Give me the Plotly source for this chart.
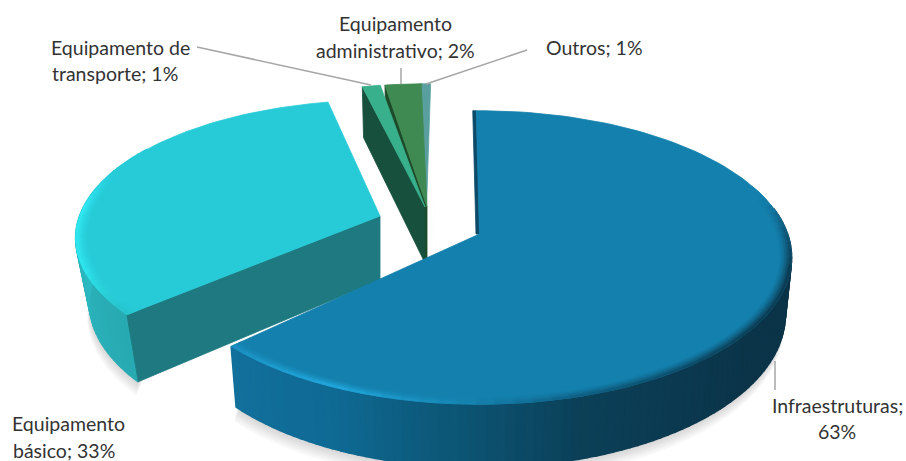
import math
import plotly.graph_objects as go

# ---- data -------------------------------------------------------------
categories = ["Infraestruturas", "Equipamento básico", "Equipamento de transporte",
              "Equipamento administrativo", "Outros"]
values = [62.9, 33.2, 1.1, 2.2, 0.6]
label_lines = [["Infraestruturas;", "{v}%"], ["Equipamento", "básico; {v}%"],
               ["Equipamento de", "transporte; {v}%"], ["Equipamento", "administrativo; {v}%"],
               ["Outros; {v}%"]]

# ---- view / style ------------------------------------------------------
W, H = 906, 461
R0, R2, K = 305.0, 143.0, 0.16
APEX = [(479.5, 234), (380, 216), (425, 207), (427, 207), (426.5, 207)]
ROT = [-0.7, 2.5, 0.3, 0.9, 0.9]
RS = [1.01, 0.985, 1.0, 1.0, 1.0]
YS = [1.0, 0.94, 1.0, 1.0, 1.0]
TH = [56.0, 64.0, 56.0, 56.0, 56.0]
SHRINK = [0.02, 0.045, 0.02, 0.02, 0.02]
TOP = ["#1480ad", "#27cbd8", "#38b08c", "#3f8a52", "#5a9fa0"]
WALL = [None, "#1e7a80", "#17503c", "#1d4a28", "#24505a"]
BLUE_SIDE = [(226, "#12709c"), (205, "#0f6a94"), (185, "#0c5676"), (165, "#0b4058"),
             (130, "#0b3449"), (80, "#0c3347")]
BLUE_EDGE = [(227, "#1a8fc0"), (205, "#22a8dd"), (185, "#1788b6"), (165, "#0f5f82"),
             (130, "#0c4058"), (105, "#0c3b52"), (90, "#0f5878"), (76, "#1480ad"), (0, "#1480ad")]
CYAN_SIDE = [(228, "#28aab2"), (250, "#2bb2ba"), (275, "#2ac0c8"), (300, "#27cbd8")]
CYAN_EDGE = [(229, "#28c4cc"), (245, "#2fe4ec"), (272, "#30e8f2"), (288, "#27cbd8"), (347, "#27cbd8")]


def hex2(c):
    return tuple(int(c[i:i + 2], 16) for i in (1, 3, 5))


def mix(a, b, t):
    ca, cb = hex2(a), hex2(b)
    return "#%02x%02x%02x" % tuple(round(x + (y - x) * t) for x, y in zip(ca, cb))


def ramp(stops, a):
    st = sorted(stops)
    if a <= st[0][0]:
        return st[0][1]
    for (a0, c0), (a1, c1) in zip(st, st[1:]):
        if a <= a1:
            return mix(c0, c1, (a - a0) / (a1 - a0))
    return st[-1][1]


def proj(i, th, r=1.0, d=0.0, ox=0.0, oy=0.0):
    ax, ay = APEX[i]
    t = math.radians(th + ROT[i])
    X, Y = r * math.sin(t), -r * math.cos(t)
    s = 1 / (1 - K * Y)
    f = 1 - SHRINK[i] * d
    return ax + R0 * RS[i] * X * s * f + ox, ay + R2 * YS[i] * Y * s * f + TH[i] * d * s + oy


fig = go.Figure()


def poly(pts, color, seam=0.8):
    xs = [p[0] for p in pts] + [pts[0][0]]
    ys = [p[1] for p in pts] + [pts[0][1]]
    fig.add_trace(go.Scatter(x=xs, y=ys, mode="lines", fill="toself", fillcolor=color,
                             line=dict(color=color if seam else "rgba(0,0,0,0)", width=seam),
                             hoverinfo="skip", showlegend=False))


def arange(a, b, n):
    return [a + (b - a) * j / n for j in range(n + 1)]


total = sum(values)
spans, c = [], 0.0
for v in values:
    spans.append((c, c + v / total * 360))
    c += v / total * 360

# soft shadows
for i, lo, hi in ((1, 200, 300), (0, 60, 232)):
    a0, a1 = max(spans[i][0], lo), min(spans[i][1], hi)
    for n in range(6):
        off = 2 + n * 2.4
        pts = [proj(i, a, 1.0, 1.0, -off * 0.15, off) for a in arange(a0, a1, 50)]
        pts += [proj(i, a, 0.8, 0.0) for a in arange(a1, a0, 20)]
        poly(pts, "rgba(60,60,60,0.035)", seam=0)

# thin slices (drawn back to front, right to left)
for i in (2, 3, 4):
    a0, a1 = spans[i]
    for n in range(4):
        off = 2 + n * 2.5
        pts = [proj(i, a1, 1, 0.2, off, off), proj(i, a1, 0.02, 1, off, 0), proj(i, a0, 0.02, 1, off, 0)]
        poly(pts, "rgba(60,60,60,0.02)", seam=0)
for i in (4, 3, 2):
    a0, a1 = spans[i]
    poly([proj(i, a0, 1, 0), proj(i, a0, 0, 0), proj(i, a0, 0, 1), proj(i, a0, 1, 1)], WALL[i])
    poly([proj(i, 0, 0, 0)] + [proj(i, a) for a in arange(a0, a1, 4)], TOP[i])


def side(i, stops, lo, hi, step=1.5):
    # painted so each strip overlaps its neighbour, which hides the seams
    g = arange(lo, hi, max(1, int((hi - lo) / step)))
    for p, q in zip(g, g[1:]):
        poly([proj(i, p, 1, 0), proj(i, q, 1, 0), proj(i, q, 1, 1), proj(i, p, 1, 1)],
             ramp(stops, (p + q) / 2), seam=1.6)


def bevel(i, stops, lo, hi, nseg, rings):
    weights = [(j + 1) / (len(rings) - 1) for j in range(len(rings) - 1)]
    g = arange(lo, hi, nseg)
    for r0, r1, w in zip(rings, rings[1:], weights):
        for p, q in zip(g, g[1:]):
            poly([proj(i, p, r0), proj(i, q, r0), proj(i, q, r1), proj(i, p, r1)],
                 mix(TOP[i], ramp(stops, (p + q) / 2), w ** 1.4))


RINGS = [0.965, 0.972, 0.979, 0.986, 0.993, 1.0]

# cyan slice
a0, a1 = spans[1]
side(1, CYAN_SIDE, a0, 300)
poly([proj(1, a0, 1, 0), proj(1, a0, 0, 0), proj(1, a0, 0, 1), proj(1, a0, 1, 1)], WALL[1])
poly([proj(1, 0, 0, 0)] + [proj(1, a) for a in arange(a0, a1, 60)], TOP[1])
bevel(1, CYAN_EDGE, a0, 292, 30, RINGS)

# blue slice
a0, a1 = spans[0]
side(0, BLUE_SIDE, 80, a1)
poly([proj(0, 0, 0, 0, -3.5, 0), proj(0, 0, 1, 0, -3.5, 0), proj(0, 0, 1, 0), proj(0, 0, 0, 0)], "#0c4a68")
poly([proj(0, 0, 0, 0)] + [proj(0, a) for a in arange(a0, a1, 120)], TOP[0])
bevel(0, BLUE_EDGE, 70, a1, 52, RINGS)

# leader lines
leaders = [((197, 47), (371, 85)), ((401, 68), (401, 84)), ((527, 50), (426, 84)), ((775, 361), (775, 390))]
for p, q in leaders:
    fig.add_trace(go.Scatter(x=[p[0], q[0]], y=[p[1], q[1]], mode="lines",
                             line=dict(color="#a6a6a6", width=1.5), hoverinfo="skip", showlegend=False))

# labels
label_pos = {0: [(837, 405), (837, 431)], 1: [(68, 423), (64, 450)], 2: [(120, 47), (115, 73)],
             3: [(395, 23), (395, 50)], 4: [(594, 47)]}
for i, lines in enumerate(label_lines):
    for line, (x, y) in zip(lines, label_pos[i]):
        fig.add_annotation(x=x, y=y, xref="x", yref="y", showarrow=False,
                           text=line.format(v=round(values[i])),
                           font=dict(family="Lato, Open Sans, sans-serif", size=19.5, color="#333333"))

fig.update_layout(width=W, height=H, margin=dict(l=0, r=0, t=0, b=0),
                  paper_bgcolor="white", plot_bgcolor="white", showlegend=False,
                  xaxis=dict(range=[0, W], visible=False, fixedrange=True),
                  yaxis=dict(range=[H, 0], visible=False, fixedrange=True))
fig.write_html("out.html", config={"displayModeBar": False},
               post_script="document.body.style.margin='0';document.body.style.overflow='hidden';")
